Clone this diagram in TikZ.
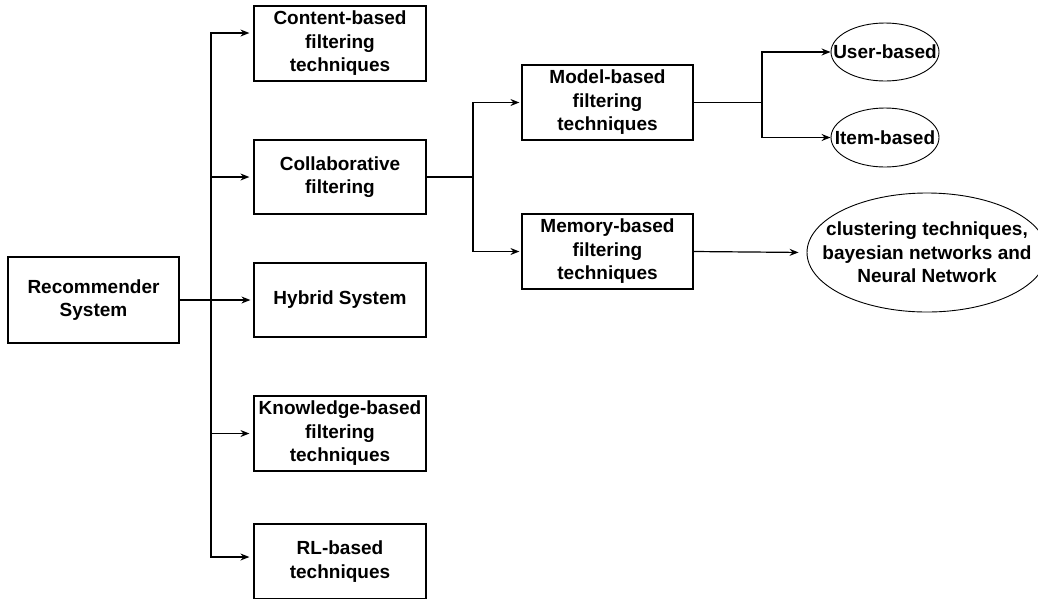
\documentclass[tikz,border=0pt]{standalone}
\usepackage{fontspec}
\setmainfont{Liberation Sans}
\usetikzlibrary{arrows.meta,shapes.geometric}
\tikzset{
  box/.style={draw, line width=1.2pt, rectangle, minimum width=172pt, minimum height=75pt, align=center, inner sep=0pt},
  oval/.style={draw, line width=0.9pt, ellipse, inner sep=0pt},
  conn/.style={line width=1.2pt},
  arr/.style={conn, -{Stealth[length=9pt,width=7pt,inset=3pt]}},
  every node/.append style={font=\fontsize{19}{23.5}\selectfont\bfseries}
}
\begin{document}
\begin{tikzpicture}[x=1pt,y=-1pt]
\clip (0,0) rectangle (1038,598);
\fill[white] (0,0) rectangle (1038,598);
\node[box, minimum width=171pt, minimum height=86pt] (rec) at (93.5,300) {Recommender\\System};
\node[box] (cont) at (340,43.5) {Content-based\\filtering\\techniques};
\node[box, minimum height=74pt] (coll) at (340,177) {Collaborative\\filtering};
\node[box, minimum height=74pt] (hyb) at (340,300) {Hybrid System};
\node[box] (know) at (340,433.5) {Knowledge-based\\filtering\\techniques};
\node[box] (rl) at (340,561.5) {RL-based\\techniques};
\node[box, minimum width=171pt] (model) at (607.5,102.5) {Model-based\\filtering\\techniques};
\node[box, minimum width=171pt] (mem) at (607.5,251.5) {Memory-based\\filtering\\techniques};
\node[oval, minimum width=108pt, minimum height=58pt, label={center:User-based}] (user) at (885,52) {};
\node[oval, minimum width=108pt, minimum height=59pt, label={center:Item-based}] (item) at (885,137.5) {};
\node[oval, minimum width=240pt, minimum height=119pt, label={[align=center]center:clustering techniques,\\bayesian networks and\\Neural Network}] (nn) at (927,252.5) {};
% trunk from Recommender
\coordinate (trunk) at (211,300);
\draw[arr, shorten >=3pt] (rec.east) -- (hyb.west);
\draw[arr, shorten >=4pt] (rec.east) -| (trunk) |- ([yshift=10.5pt]cont.west);
\draw[arr, shorten >=4pt] (rec.east) -| (trunk) |- (coll.west);
\draw[arr, shorten >=4pt] (rec.east) -| (trunk) |- (know.west);
\draw[arr, shorten >=4pt] (rec.east) -| (trunk) |- ([yshift=4.5pt]rl.west);
% Collaborative branch
\coordinate (cj) at (473,177);
\draw[arr, shorten >=2pt] (coll.east) -- (cj) |- (model.west);
\draw[arr, shorten >=2pt] (coll.east) -- (cj) |- (mem.west);
% Model branch
\coordinate (mj) at (762,102.5);
\draw[arr] (model.east) -- (mj) |- (user.west);
\draw[arr] (model.east) -- (mj) |- (item.west);
% Memory branch
\draw[arr, shorten >=8pt] (mem.east) -- (nn.west);
\end{tikzpicture}
\end{document}
